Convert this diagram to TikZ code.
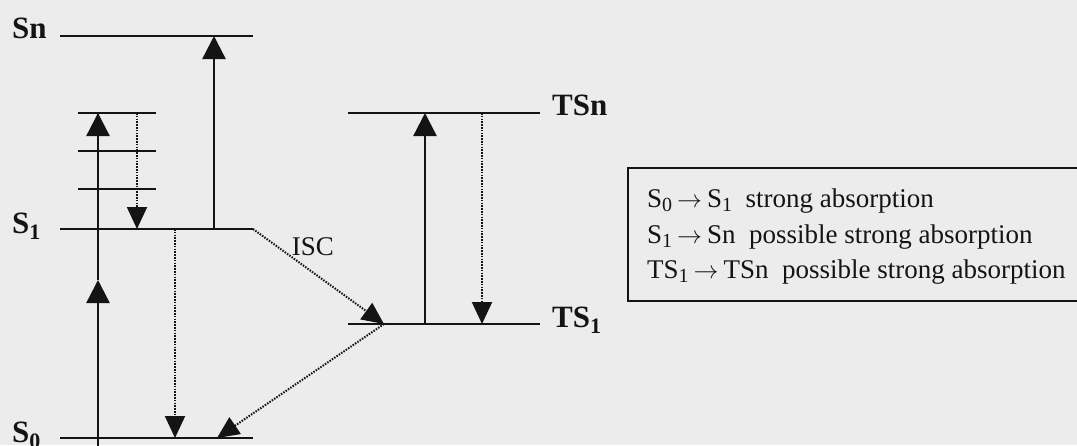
\documentclass[tikz,border=0pt]{standalone}
\usepackage{fontspec}
\setmainfont{Liberation Serif}
\usetikzlibrary{arrows.meta}
\definecolor{paper}{RGB}{236,236,236}
\definecolor{ink}{RGB}{20,20,20}
\newcommand\legsub[1]{\raisebox{-0.18em}{\fontsize{20}{20}\selectfont #1}}
\newcommand\bsub[1]{\raisebox{-0.2em}{\fontsize{22}{22}\selectfont\bfseries #1}}
\newcommand\legarrow{\kern5pt$\rightarrow$\kern5pt}
\begin{document}
\begin{tikzpicture}[x=1pt,y=-1pt,
  level/.style={draw=ink,line width=2.4pt},
  trans/.style={draw=ink,line width=2.4pt,-{Triangle[length=23pt,width=23pt]}},
  relax/.style={draw=ink,line width=2pt,dash pattern=on 1.5pt off 1.3pt,
                -{Triangle[length=22pt,width=20pt]}},
  statelabel/.style={anchor=base west,inner sep=0pt,text=ink,
                     font=\fontsize{31}{31}\selectfont\bfseries},
  plain/.style={anchor=base west,inner sep=0pt,text=ink,
                font=\fontsize{27}{27}\selectfont}]
\useasboundingbox (0,0) rectangle (1077,445);
\clip (0,0) rectangle (1077,445);
\fill[paper] (0,0) rectangle (1077,445);

% singlet manifold
\coordinate (sn-l) at (60,36);   \coordinate (sn-r) at (253,36);
\coordinate (s1-l) at (60,229);  \coordinate (s1-r) at (253,229);
\coordinate (s0-l) at (60,438);  \coordinate (s0-r) at (253,438);
\coordinate (v3-l) at (78,113);  \coordinate (v3-r) at (156,113);
\coordinate (v2-l) at (78,151);  \coordinate (v2-r) at (156,151);
\coordinate (v1-l) at (78,189);  \coordinate (v1-r) at (156,189);
% triplet manifold
\coordinate (tn-l) at (348,113); \coordinate (tn-r) at (540,113);
\coordinate (t1-l) at (348,324); \coordinate (t1-r) at (540,324);

\foreach \a/\b in {sn-l/sn-r,s1-l/s1-r,s0-l/s0-r,v3-l/v3-r,v2-l/v2-r,v1-l/v1-r,tn-l/tn-r,t1-l/t1-r}
  \draw[level] (\a) -- (\b);

\node[statelabel] (lab-sn) at (12,38) {Sn};
\node[statelabel] (lab-s1) at (12,233) {S\bsub{1}};
\node[statelabel] (lab-s0) at (12,442) {S\bsub{0}};
\node[statelabel] (lab-tn) at (552,115) {TSn};
\node[statelabel] (lab-t1) at (552,327) {TS\bsub{1}};

% absorption S0 -> S1 (vibrational level) with mid-way arrowhead
\coordinate (abs-start) at (98,450);
\coordinate (abs-mid) at (98,280);
\coordinate (abs-top) at (98,113);
\draw[trans] (abs-start) -- (abs-mid);
\draw[level] (abs-mid) -- (abs-top);
\draw[trans] (abs-mid) -- (abs-top);

% vibrational relaxation
\coordinate (vr-top) at (137,113); \coordinate (vr-bot) at (137,229);
\draw[relax] (vr-top) -- (vr-bot);

% S1 -> Sn absorption
\coordinate (sa-bot) at (214,229); \coordinate (sa-top) at (214,36);
\draw[trans] (sa-bot) -- (sa-top);

% S1 -> S0 decay
\coordinate (fl-top) at (175,229); \coordinate (fl-bot) at (175,438);
\draw[relax] (fl-top) -- (fl-bot);

% intersystem crossing and triplet decay
\coordinate (isc-end) at (384,324);
\coordinate (ph-end) at (217,438);
\draw[relax] (s1-r) -- (isc-end);
\draw[relax] (isc-end) -- (ph-end);
\node[plain,anchor=center] (isc) at (313,247) {ISC};

% triplet-triplet absorption and decay
\coordinate (ta-bot) at (425,324); \coordinate (ta-top) at (425,113);
\draw[trans] (ta-bot) -- (ta-top);
\coordinate (td-top) at (482,113); \coordinate (td-bot) at (482,324);
\draw[relax] (td-top) -- (td-bot);

% legend
\draw[draw=ink,line width=2.2pt] (628,168) rectangle (1100,301);
\node[plain] (leg1) at (647,207) {S\legsub{0}\legarrow S\legsub{1}\ \ strong absorption};
\node[plain] (leg2) at (647,243) {S\legsub{1}\legarrow Sn\ \ possible strong absorption};
\node[plain] (leg3) at (647,278) {TS\legsub{1}\legarrow TSn\ \ possible strong absorption};
\end{tikzpicture}
\end{document}
